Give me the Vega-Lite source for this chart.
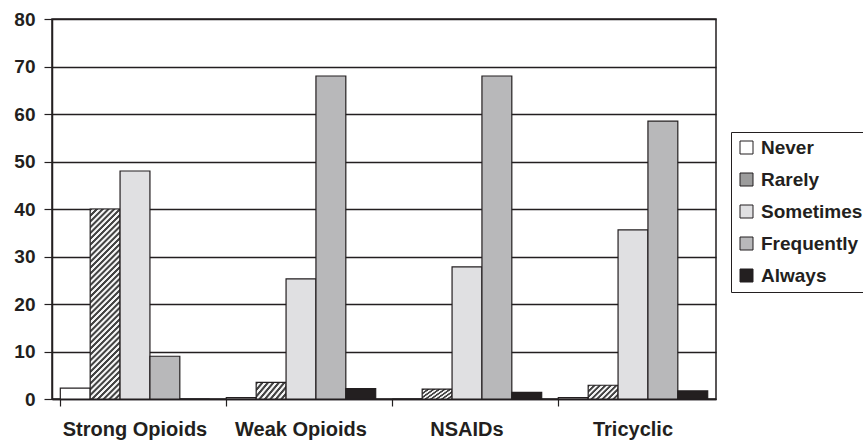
{
  "$schema": "https://vega.github.io/schema/vega-lite/v6.json",
  "autosize": {"type": "none"},
  "padding": {"left": 52, "top": 19, "right": 147, "bottom": 43},
  "width": 664,
  "height": 380,
  "background": "white",
  "config": {
    "font": "Liberation Sans",
    "view": {"stroke": "#231f20", "strokeWidth": 1.5}
  },
  "data": {
    "values": [
      {"drug": "Strong Opioids", "freq": "Never", "pct": 2.3},
      {"drug": "Strong Opioids", "freq": "Rarely", "pct": 40},
      {"drug": "Strong Opioids", "freq": "Sometimes", "pct": 48},
      {"drug": "Strong Opioids", "freq": "Frequently", "pct": 9},
      {"drug": "Strong Opioids", "freq": "Always", "pct": 0},
      {"drug": "Weak Opioids", "freq": "Never", "pct": 0.3},
      {"drug": "Weak Opioids", "freq": "Rarely", "pct": 3.5},
      {"drug": "Weak Opioids", "freq": "Sometimes", "pct": 25.3},
      {"drug": "Weak Opioids", "freq": "Frequently", "pct": 68},
      {"drug": "Weak Opioids", "freq": "Always", "pct": 2.2},
      {"drug": "NSAIDs", "freq": "Never", "pct": 0},
      {"drug": "NSAIDs", "freq": "Rarely", "pct": 2.1},
      {"drug": "NSAIDs", "freq": "Sometimes", "pct": 27.8},
      {"drug": "NSAIDs", "freq": "Frequently", "pct": 68},
      {"drug": "NSAIDs", "freq": "Always", "pct": 1.4},
      {"drug": "Tricyclic", "freq": "Never", "pct": 0.3},
      {"drug": "Tricyclic", "freq": "Rarely", "pct": 2.9},
      {"drug": "Tricyclic", "freq": "Sometimes", "pct": 35.6},
      {"drug": "Tricyclic", "freq": "Frequently", "pct": 58.5},
      {"drug": "Tricyclic", "freq": "Always", "pct": 1.7}
    ]
  },
  "mark": {"type": "bar", "stroke": "#231f20", "strokeWidth": 1.2},
  "encoding": {
    "x": {
      "field": "drug",
      "type": "nominal",
      "sort": ["Strong Opioids", "Weak Opioids", "NSAIDs", "Tricyclic"],
      "scale": {"paddingInner": 0.1, "paddingOuter": 0.05},
      "axis": {
        "title": null,
        "labelAngle": 0,
        "labelFont": "Liberation Sans",
        "labelFontWeight": "bold",
        "labelFontSize": 20,
        "labelColor": "#231f20",
        "labelPadding": 13,
        "bandPosition": 0,
        "tickColor": "#231f20",
        "tickSize": 7,
        "tickWidth": 1.2,
        "domainColor": "#231f20",
        "domainWidth": 1.5
      }
    },
    "xOffset": {
      "field": "freq",
      "type": "nominal",
      "sort": ["Never", "Rarely", "Sometimes", "Frequently", "Always"],
      "scale": {"paddingInner": 0, "paddingOuter": 0}
    },
    "y": {
      "field": "pct",
      "type": "quantitative",
      "scale": {"domain": [0, 80]},
      "axis": {
        "title": null,
        "values": [0, 10, 20, 30, 40, 50, 60, 70, 80],
        "grid": true,
        "gridColor": "#231f20",
        "gridWidth": 1.5,
        "gridOpacity": 1,
        "labelFont": "Liberation Sans",
        "labelFontWeight": "bold",
        "labelFontSize": 19,
        "labelColor": "#231f20",
        "labelPadding": 9,
        "tickColor": "#231f20",
        "tickSize": 8,
        "tickWidth": 1.2,
        "domainColor": "#231f20",
        "domainWidth": 1.5
      }
    },
    "fill": {
      "condition": [
        {
          "test": "datum.freq === 'Rarely' && datum.pct < 10",
          "value": {
            "gradient": "linear",
            "x1": 0, "y1": 0, "x2": 1.2044, "y2": 0.5621,
            "stops": [
              {"offset": 0, "color": "#444444"}, {"offset": 0.0438, "color": "#444444"}, {"offset": 0.0625, "color": "#f4f4f4"}, {"offset": 0.1063, "color": "#f4f4f4"},
              {"offset": 0.125, "color": "#444444"}, {"offset": 0.1688, "color": "#444444"}, {"offset": 0.1875, "color": "#f4f4f4"}, {"offset": 0.2313, "color": "#f4f4f4"},
              {"offset": 0.25, "color": "#444444"}, {"offset": 0.2938, "color": "#444444"}, {"offset": 0.3125, "color": "#f4f4f4"}, {"offset": 0.3563, "color": "#f4f4f4"},
              {"offset": 0.375, "color": "#444444"}, {"offset": 0.4188, "color": "#444444"}, {"offset": 0.4375, "color": "#f4f4f4"}, {"offset": 0.4813, "color": "#f4f4f4"},
              {"offset": 0.5, "color": "#444444"}, {"offset": 0.5438, "color": "#444444"}, {"offset": 0.5625, "color": "#f4f4f4"}, {"offset": 0.6063, "color": "#f4f4f4"},
              {"offset": 0.625, "color": "#444444"}, {"offset": 0.6688, "color": "#444444"}, {"offset": 0.6875, "color": "#f4f4f4"}, {"offset": 0.7313, "color": "#f4f4f4"},
              {"offset": 0.75, "color": "#444444"}, {"offset": 0.7938, "color": "#444444"}, {"offset": 0.8125, "color": "#f4f4f4"}, {"offset": 0.8563, "color": "#f4f4f4"},
              {"offset": 0.875, "color": "#444444"}, {"offset": 0.9188, "color": "#444444"}, {"offset": 0.9375, "color": "#f4f4f4"}, {"offset": 0.9813, "color": "#f4f4f4"},
              {"offset": 1, "color": "#444444"}
            ]
          }
        },
        {
          "test": "datum.freq === 'Rarely'",
          "value": {
            "gradient": "linear",
            "x1": 0, "y1": 0, "x2": 0.1776, "y2": 1.1293,
            "stops": [
              {"offset": 0, "color": "#444444"}, {"offset": 0.0092, "color": "#444444"}, {"offset": 0.0132, "color": "#f4f4f4"}, {"offset": 0.0224, "color": "#f4f4f4"},
              {"offset": 0.0263, "color": "#444444"}, {"offset": 0.0355, "color": "#444444"}, {"offset": 0.0395, "color": "#f4f4f4"}, {"offset": 0.0487, "color": "#f4f4f4"},
              {"offset": 0.0526, "color": "#444444"}, {"offset": 0.0618, "color": "#444444"}, {"offset": 0.0658, "color": "#f4f4f4"}, {"offset": 0.0750, "color": "#f4f4f4"},
              {"offset": 0.0789, "color": "#444444"}, {"offset": 0.0881, "color": "#444444"}, {"offset": 0.0921, "color": "#f4f4f4"}, {"offset": 0.1013, "color": "#f4f4f4"},
              {"offset": 0.1053, "color": "#444444"}, {"offset": 0.1145, "color": "#444444"}, {"offset": 0.1184, "color": "#f4f4f4"}, {"offset": 0.1276, "color": "#f4f4f4"},
              {"offset": 0.1316, "color": "#444444"}, {"offset": 0.1408, "color": "#444444"}, {"offset": 0.1447, "color": "#f4f4f4"}, {"offset": 0.1539, "color": "#f4f4f4"},
              {"offset": 0.1579, "color": "#444444"}, {"offset": 0.1671, "color": "#444444"}, {"offset": 0.1711, "color": "#f4f4f4"}, {"offset": 0.1803, "color": "#f4f4f4"},
              {"offset": 0.1842, "color": "#444444"}, {"offset": 0.1934, "color": "#444444"}, {"offset": 0.1974, "color": "#f4f4f4"}, {"offset": 0.2066, "color": "#f4f4f4"},
              {"offset": 0.2105, "color": "#444444"}, {"offset": 0.2197, "color": "#444444"}, {"offset": 0.2237, "color": "#f4f4f4"}, {"offset": 0.2329, "color": "#f4f4f4"},
              {"offset": 0.2368, "color": "#444444"}, {"offset": 0.2461, "color": "#444444"}, {"offset": 0.2500, "color": "#f4f4f4"}, {"offset": 0.2592, "color": "#f4f4f4"},
              {"offset": 0.2632, "color": "#444444"}, {"offset": 0.2724, "color": "#444444"}, {"offset": 0.2763, "color": "#f4f4f4"}, {"offset": 0.2855, "color": "#f4f4f4"},
              {"offset": 0.2895, "color": "#444444"}, {"offset": 0.2987, "color": "#444444"}, {"offset": 0.3026, "color": "#f4f4f4"}, {"offset": 0.3118, "color": "#f4f4f4"},
              {"offset": 0.3158, "color": "#444444"}, {"offset": 0.3250, "color": "#444444"}, {"offset": 0.3289, "color": "#f4f4f4"}, {"offset": 0.3382, "color": "#f4f4f4"},
              {"offset": 0.3421, "color": "#444444"}, {"offset": 0.3513, "color": "#444444"}, {"offset": 0.3553, "color": "#f4f4f4"}, {"offset": 0.3645, "color": "#f4f4f4"},
              {"offset": 0.3684, "color": "#444444"}, {"offset": 0.3776, "color": "#444444"}, {"offset": 0.3816, "color": "#f4f4f4"}, {"offset": 0.3908, "color": "#f4f4f4"},
              {"offset": 0.3947, "color": "#444444"}, {"offset": 0.4039, "color": "#444444"}, {"offset": 0.4079, "color": "#f4f4f4"}, {"offset": 0.4171, "color": "#f4f4f4"},
              {"offset": 0.4211, "color": "#444444"}, {"offset": 0.4303, "color": "#444444"}, {"offset": 0.4342, "color": "#f4f4f4"}, {"offset": 0.4434, "color": "#f4f4f4"},
              {"offset": 0.4474, "color": "#444444"}, {"offset": 0.4566, "color": "#444444"}, {"offset": 0.4605, "color": "#f4f4f4"}, {"offset": 0.4697, "color": "#f4f4f4"},
              {"offset": 0.4737, "color": "#444444"}, {"offset": 0.4829, "color": "#444444"}, {"offset": 0.4868, "color": "#f4f4f4"}, {"offset": 0.4961, "color": "#f4f4f4"},
              {"offset": 0.5000, "color": "#444444"}, {"offset": 0.5092, "color": "#444444"}, {"offset": 0.5132, "color": "#f4f4f4"}, {"offset": 0.5224, "color": "#f4f4f4"},
              {"offset": 0.5263, "color": "#444444"}, {"offset": 0.5355, "color": "#444444"}, {"offset": 0.5395, "color": "#f4f4f4"}, {"offset": 0.5487, "color": "#f4f4f4"},
              {"offset": 0.5526, "color": "#444444"}, {"offset": 0.5618, "color": "#444444"}, {"offset": 0.5658, "color": "#f4f4f4"}, {"offset": 0.5750, "color": "#f4f4f4"},
              {"offset": 0.5789, "color": "#444444"}, {"offset": 0.5882, "color": "#444444"}, {"offset": 0.5921, "color": "#f4f4f4"}, {"offset": 0.6013, "color": "#f4f4f4"},
              {"offset": 0.6053, "color": "#444444"}, {"offset": 0.6145, "color": "#444444"}, {"offset": 0.6184, "color": "#f4f4f4"}, {"offset": 0.6276, "color": "#f4f4f4"},
              {"offset": 0.6316, "color": "#444444"}, {"offset": 0.6408, "color": "#444444"}, {"offset": 0.6447, "color": "#f4f4f4"}, {"offset": 0.6539, "color": "#f4f4f4"},
              {"offset": 0.6579, "color": "#444444"}, {"offset": 0.6671, "color": "#444444"}, {"offset": 0.6711, "color": "#f4f4f4"}, {"offset": 0.6803, "color": "#f4f4f4"},
              {"offset": 0.6842, "color": "#444444"}, {"offset": 0.6934, "color": "#444444"}, {"offset": 0.6974, "color": "#f4f4f4"}, {"offset": 0.7066, "color": "#f4f4f4"},
              {"offset": 0.7105, "color": "#444444"}, {"offset": 0.7197, "color": "#444444"}, {"offset": 0.7237, "color": "#f4f4f4"}, {"offset": 0.7329, "color": "#f4f4f4"},
              {"offset": 0.7368, "color": "#444444"}, {"offset": 0.7461, "color": "#444444"}, {"offset": 0.7500, "color": "#f4f4f4"}, {"offset": 0.7592, "color": "#f4f4f4"},
              {"offset": 0.7632, "color": "#444444"}, {"offset": 0.7724, "color": "#444444"}, {"offset": 0.7763, "color": "#f4f4f4"}, {"offset": 0.7855, "color": "#f4f4f4"},
              {"offset": 0.7895, "color": "#444444"}, {"offset": 0.7987, "color": "#444444"}, {"offset": 0.8026, "color": "#f4f4f4"}, {"offset": 0.8118, "color": "#f4f4f4"},
              {"offset": 0.8158, "color": "#444444"}, {"offset": 0.8250, "color": "#444444"}, {"offset": 0.8289, "color": "#f4f4f4"}, {"offset": 0.8382, "color": "#f4f4f4"},
              {"offset": 0.8421, "color": "#444444"}, {"offset": 0.8513, "color": "#444444"}, {"offset": 0.8553, "color": "#f4f4f4"}, {"offset": 0.8645, "color": "#f4f4f4"},
              {"offset": 0.8684, "color": "#444444"}, {"offset": 0.8776, "color": "#444444"}, {"offset": 0.8816, "color": "#f4f4f4"}, {"offset": 0.8908, "color": "#f4f4f4"},
              {"offset": 0.8947, "color": "#444444"}, {"offset": 0.9039, "color": "#444444"}, {"offset": 0.9079, "color": "#f4f4f4"}, {"offset": 0.9171, "color": "#f4f4f4"},
              {"offset": 0.9211, "color": "#444444"}, {"offset": 0.9303, "color": "#444444"}, {"offset": 0.9342, "color": "#f4f4f4"}, {"offset": 0.9434, "color": "#f4f4f4"},
              {"offset": 0.9474, "color": "#444444"}, {"offset": 0.9566, "color": "#444444"}, {"offset": 0.9605, "color": "#f4f4f4"}, {"offset": 0.9697, "color": "#f4f4f4"},
              {"offset": 0.9737, "color": "#444444"}, {"offset": 0.9829, "color": "#444444"}, {"offset": 0.9868, "color": "#f4f4f4"}, {"offset": 0.9961, "color": "#f4f4f4"},
              {"offset": 1, "color": "#444444"}
            ]
          }
        }
      ],
      "field": "freq",
      "type": "nominal",
      "sort": ["Never", "Rarely", "Sometimes", "Frequently", "Always"],
      "scale": {
        "domain": ["Never", "Rarely", "Sometimes", "Frequently", "Always"],
        "range": ["#ffffff", "#9c9c9c", "#e0e0e2", "#b8b8ba", "#231f20"]
      },
      "legend": {
        "title": null,
        "orient": "none",
        "legendX": 679,
        "legendY": 113,
        "strokeColor": "#231f20",
        "padding": 6,
        "symbolType": "square",
        "symbolSize": 169,
        "symbolStrokeColor": "#231f20",
        "symbolStrokeWidth": 1,
        "labelFont": "Liberation Sans",
        "labelFontWeight": "bold",
        "labelFontSize": 19,
        "labelColor": "#231f20",
        "labelOffset": 5,
        "labelLimit": 300,
        "rowPadding": 12,
        "encode": {
          "symbols": {
            "update": {
              "stroke": {"value": "#231f20"},
              "strokeWidth": {"value": 1},
              "fill": [
                {
                  "test": "datum.label === 'Rarely' || datum.value === 'Rarely'",
                  "value": {
                    "gradient": "linear",
                    "x1": 0, "y1": 0, "x2": 2, "y2": 2,
                    "stops": [
                      {"offset": 0, "color": "#444444"}, {"offset": 0.0438, "color": "#444444"}, {"offset": 0.0625, "color": "#f4f4f4"}, {"offset": 0.1063, "color": "#f4f4f4"},
                      {"offset": 0.125, "color": "#444444"}, {"offset": 0.1688, "color": "#444444"}, {"offset": 0.1875, "color": "#f4f4f4"}, {"offset": 0.2313, "color": "#f4f4f4"},
                      {"offset": 0.25, "color": "#444444"}, {"offset": 0.2938, "color": "#444444"}, {"offset": 0.3125, "color": "#f4f4f4"}, {"offset": 0.3563, "color": "#f4f4f4"},
                      {"offset": 0.375, "color": "#444444"}, {"offset": 0.4188, "color": "#444444"}, {"offset": 0.4375, "color": "#f4f4f4"}, {"offset": 0.4813, "color": "#f4f4f4"},
                      {"offset": 0.5, "color": "#444444"}, {"offset": 0.5438, "color": "#444444"}, {"offset": 0.5625, "color": "#f4f4f4"}, {"offset": 0.6063, "color": "#f4f4f4"},
                      {"offset": 0.625, "color": "#444444"}, {"offset": 0.6688, "color": "#444444"}, {"offset": 0.6875, "color": "#f4f4f4"}, {"offset": 0.7313, "color": "#f4f4f4"},
                      {"offset": 0.75, "color": "#444444"}, {"offset": 0.7938, "color": "#444444"}, {"offset": 0.8125, "color": "#f4f4f4"}, {"offset": 0.8563, "color": "#f4f4f4"},
                      {"offset": 0.875, "color": "#444444"}, {"offset": 0.9188, "color": "#444444"}, {"offset": 0.9375, "color": "#f4f4f4"}, {"offset": 0.9813, "color": "#f4f4f4"},
                      {"offset": 1, "color": "#444444"}
                    ]
                  }
                },
                {"scale": "fill", "field": "value"}
              ]
            }
          }
        }
      }
    }
  }
}
